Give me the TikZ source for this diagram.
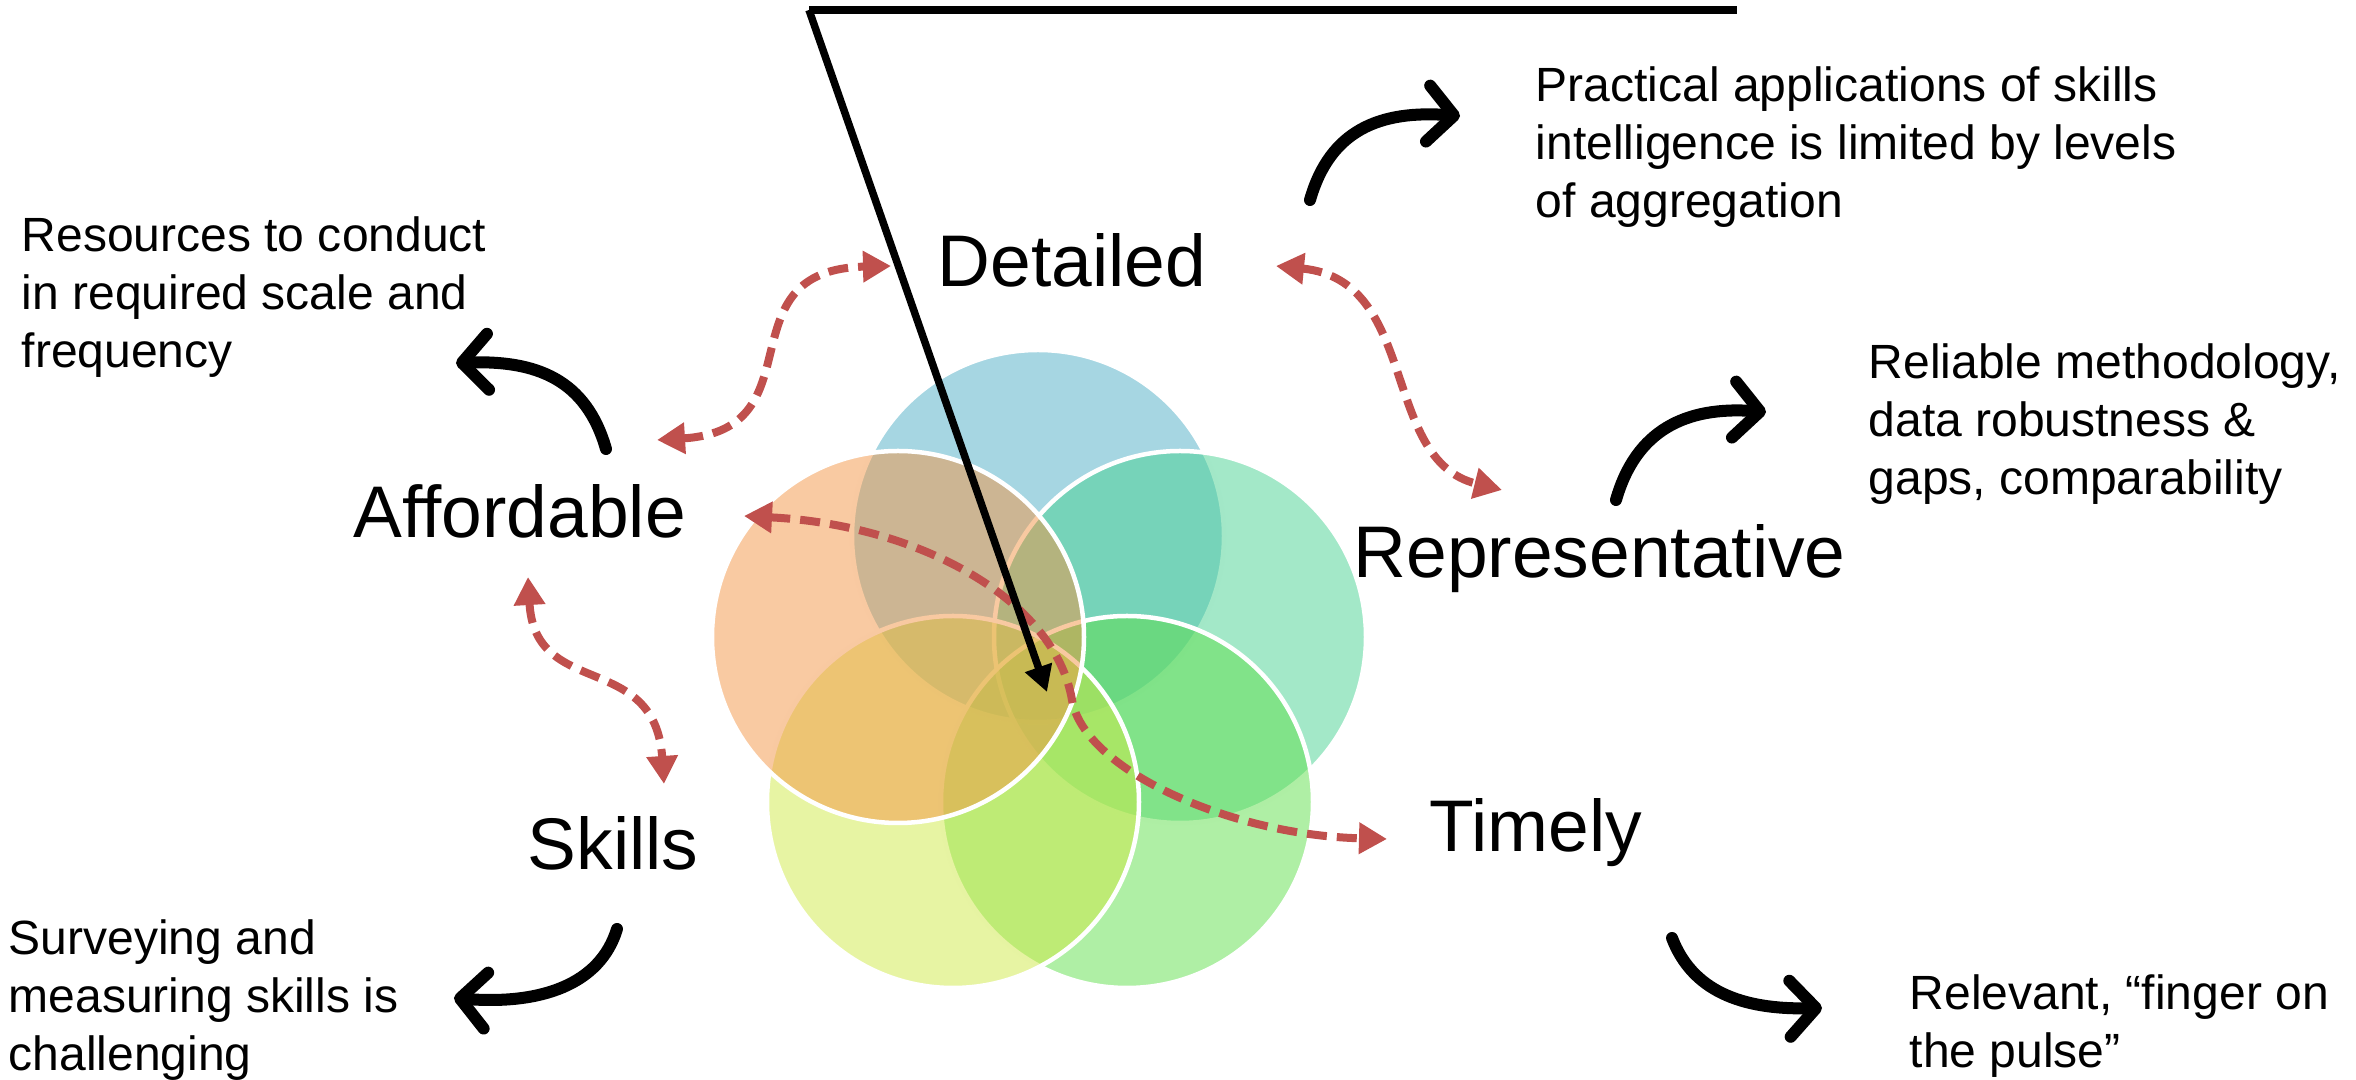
\documentclass[tikz,border=0pt]{standalone}
\usepackage{fontspec}
\setmainfont{Liberation Sans}
\usetikzlibrary{arrows.meta}

\definecolor{petalblue}{RGB}{77,173,197}
\definecolor{petalteal}{RGB}{71,209,145}
\definecolor{petalgreen}{RGB}{95,223,75}
\definecolor{petalyellow}{RGB}{207,233,71}
\definecolor{petalorange}{RGB}{243,149,69}
\definecolor{linkred}{RGB}{192,80,77}

\begin{document}
\begin{tikzpicture}[x=0.01cm, y=-0.01cm,
  petal/.style={fill=#1, fill opacity=0.5, draw=white, line width=0.045cm},
  pillar/.style={font=\fontsize{20.8}{25}\selectfont, inner sep=0pt, anchor=base west},
  note/.style={font=\fontsize{13.66}{16.36}\selectfont, inner sep=0pt, anchor=base west},
  curl/.style={line width=0.12cm, line cap=round, line join=round,
    -{Straight Barb[length=0.26cm, width=0.56cm, round]}},
  link/.style={draw=linkred, line width=0.08cm, dash pattern=on 0.2cm off 0.1cm,
    {Triangle[length=0.28cm, width=0.3cm]}-{Triangle[length=0.28cm, width=0.3cm]}},
]
\useasboundingbox (0,0) rectangle (2356,1080);

% five overlapping petals
\coordinate (pDet) at (1038,536);
\coordinate (pRep) at (1180,637);
\coordinate (pTim) at (1127,802);
\coordinate (pSkl) at (953,802);
\coordinate (pAff) at (898,637);
\path[petal=petalblue]   (pDet) circle [radius=186];
\path[petal=petalteal]   (pRep) circle [radius=186];
\path[petal=petalgreen]  (pTim) circle [radius=186];
\path[petal=petalyellow] (pSkl) circle [radius=186];
\path[petal=petalorange] (pAff) circle [radius=186];

% pillar labels
\node[pillar] (detailed)       at (937,287)  {Detailed};
\node[pillar] (affordable)     at (353,538)  {Affordable};
\node[pillar] (representative) at (1353,578) {Representative};
\node[pillar] (skills)         at (527,870)  {Skills};
\node[pillar] (timely)         at (1429,852) {Timely};

% notes
\node[note] (noteAff) at (21,252) {\begin{tabular}[t]{@{}l@{}}Resources to conduct\\in required scale and\\frequency\end{tabular}};
\node[note] (noteDet) at (1535,102) {\begin{tabular}[t]{@{}l@{}}Practical applications of skills\\intelligence is limited by levels\\of aggregation\end{tabular}};
\node[note] (noteRep) at (1868,379) {\begin{tabular}[t]{@{}l@{}}Reliable methodology,\\data robustness \&\\gaps, comparability\end{tabular}};
\node[note] (noteSkl) at (8,955) {\begin{tabular}[t]{@{}l@{}}Surveying and\\measuring skills is\\challenging\end{tabular}};
\node[note] (noteTim) at (1909,1010) {\begin{tabular}[t]{@{}l@{}}Relevant, “finger on\\the pulse”\end{tabular}};

% curved arrows from pillars to notes
\coordinate (detOut) at (1310,200);  \coordinate (detIn) at (1460,116);
\coordinate (repOut) at (1616,500);  \coordinate (repIn) at (1766,412);
\coordinate (affOut) at (606,449);   \coordinate (affIn) at (456,363);
\coordinate (sklOut) at (617,929);   \coordinate (sklIn) at (454,998);
\coordinate (timOut) at (1672,938);  \coordinate (timIn) at (1822,1008);
\draw[curl] (detOut) .. controls (1330,130) and (1380,110) .. (detIn);
\draw[curl] (repOut) .. controls (1636,430) and (1686,406) .. (repIn);
\draw[curl] (affOut) .. controls (586,379) and (536,360) .. (affIn);
\draw[curl] (sklOut) .. controls (600,985) and (540,1005) .. (sklIn);
\draw[curl] (timOut) .. controls (1692,990) and (1740,1010) .. (timIn);

% dashed links between pillars
\coordinate (affNE) at (657,440);  \coordinate (detW) at (891,266);
\coordinate (detE) at (1276,266);  \coordinate (repNW) at (1502,490);
\coordinate (affS) at (528,577);   \coordinate (sklN) at (664,784);
\coordinate (affE) at (744,516);   \coordinate (timW) at (1387,839);
\draw[link] (affNE) .. controls (820,430) and (720,270) .. (detW);
\draw[link] (detE) .. controls (1420,280) and (1380,460) .. (repNW);
\draw[link] (affS) .. controls (535,700) and (655,650) .. (sklN);
\draw[link] (affE) .. controls (920,525) and (1055,600) .. (1072,700)
                   .. controls (1084,770) and (1230,835) .. (timW);

% pointer from the top bar into the centre
\coordinate (barL) at (809,10);
\coordinate (barR) at (1737,10);
\coordinate (hub) at (1047,692);
\draw[line width=0.085cm] (barL) -- (barR);
\draw[line width=0.075cm, -{Triangle[length=0.26cm, width=0.27cm]}] (barL) -- (hub);
\end{tikzpicture}
\end{document}
